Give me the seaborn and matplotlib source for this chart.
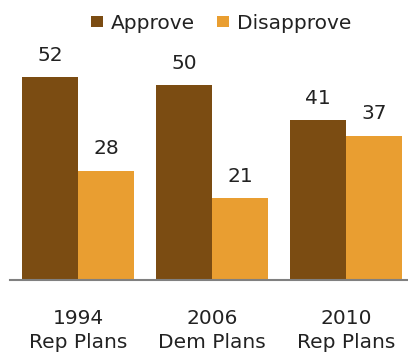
import matplotlib
matplotlib.use("Agg")
import matplotlib.pyplot as plt
import seaborn as sns
import pandas as pd

categories = ["1994\nRep Plans", "2006\nDem Plans", "2010\nRep Plans"]
series = ["Approve", "Disapprove"]
approve = [52, 50, 41]
disapprove = [28, 21, 37]
colors = ["#7B4C12", "#E99E31"]

df = pd.DataFrame({
    "cat": categories * 2,
    "series": [series[0]] * 3 + [series[1]] * 3,
    "value": approve + disapprove,
})

sns.set_style("white")
FONT = ["DejaVu Sans"]
plt.rcParams["font.family"] = FONT
FS = 14.5

fig = plt.figure(figsize=(4.08, 3.56), dpi=100)
ax = fig.add_axes([0.0, 0.2135, 1.0, 0.657])
sns.barplot(data=df, x="cat", y="value", hue="series", palette=colors,
            width=0.836, gap=0, saturation=1, linewidth=0, ax=ax, legend=True)

for cont in ax.containers:
    for bar in cont:
        h = bar.get_height()
        ax.annotate(f"{h:.0f}", (bar.get_x() + bar.get_width() / 2, h),
                    xytext=(0, 9), textcoords="offset points",
                    ha="center", va="bottom", fontsize=FS, color="#222222")

ax.set_xlim(-0.582, 2.463)
ax.set_ylim(0, 60)
ax.set_xlabel("")
ax.set_ylabel("")
ax.set_yticks([])
for s in ["top", "right", "left"]:
    ax.spines[s].set_visible(False)
ax.spines["bottom"].set_color("#808080")
ax.spines["bottom"].set_linewidth(1.5)
ax.spines["bottom"].set_bounds(-0.507, 2.463)
ax.tick_params(axis="x", length=0, pad=21, labelsize=FS, colors="#222222")
for t in ax.get_xticklabels():
    t.set_linespacing(1.35)
ax.patch.set_alpha(0)

handles, labels = ax.get_legend_handles_labels()
leg = ax.legend(handles, labels, loc="upper center", bbox_to_anchor=(0.542, 0.99),
                bbox_transform=fig.transFigure, ncol=2, frameon=False,
                fontsize=FS, labelcolor="#222222",
                handlelength=0.6, handleheight=0.5, handletextpad=0.4,
                columnspacing=1.1, borderaxespad=0.2, borderpad=0.3)

fig.savefig("out.png", dpi=100)
